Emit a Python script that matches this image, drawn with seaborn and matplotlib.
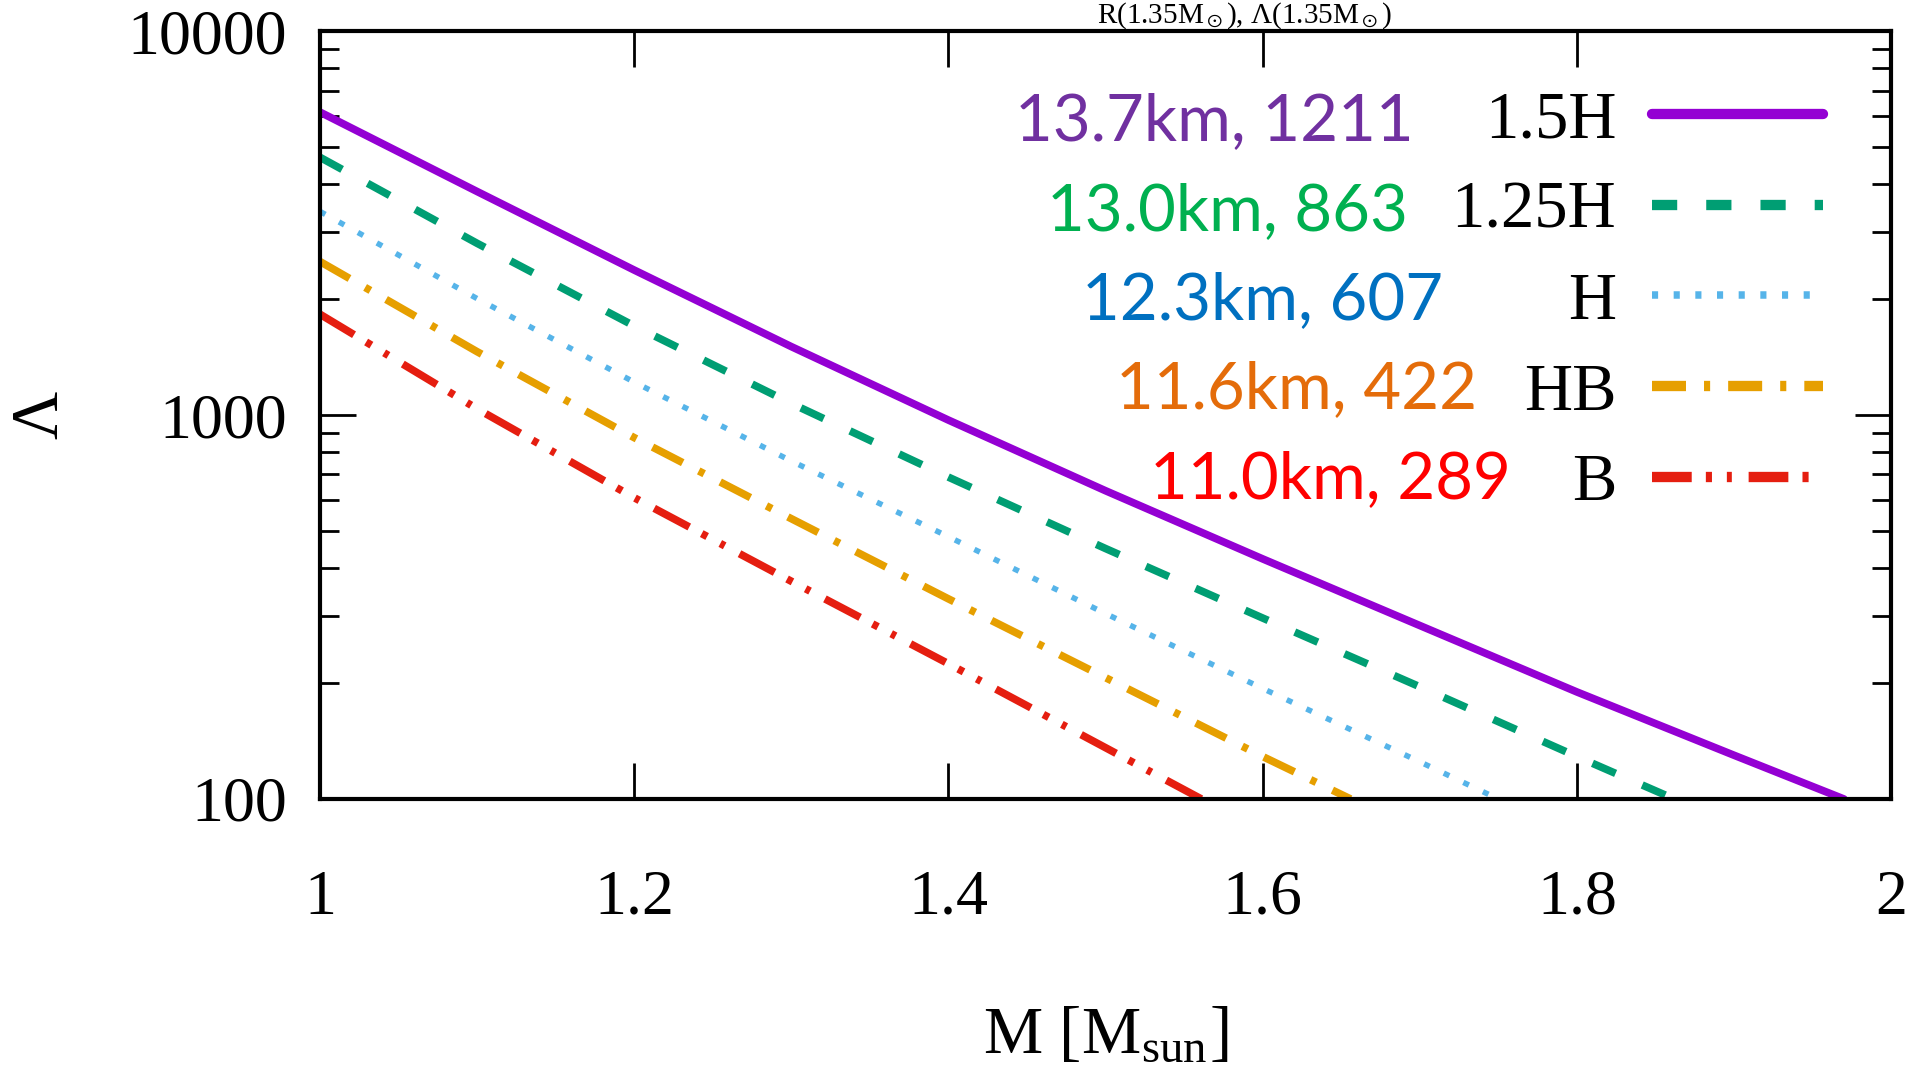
import numpy as np
import pandas as pd
import matplotlib
matplotlib.use("Agg")
import matplotlib.pyplot as plt
import seaborn as sns
from matplotlib.ticker import FixedLocator, FixedFormatter, LogLocator, NullFormatter, NullLocator
from matplotlib.font_manager import FontProperties

# ---------------- data ----------------
eos_names = ["1.5H", "1.25H", "H", "HB", "B"]
eos_notes = ["13.7km, 1211", "13.0km, 863", "12.3km, 607", "11.6km, 422", "11.0km, 289"]

mass_15H = [1.0, 1.1, 1.2, 1.3, 1.4, 1.5, 1.6, 1.7, 1.8, 1.9, 1.97]
lam_15H = [6150, 3820, 2385, 1507, 970, 635, 422, 283, 190, 130, 100]

mass_125H = [1.0, 1.1, 1.2, 1.3, 1.4, 1.5, 1.6, 1.7, 1.8, 1.862]
lam_125H = [4690, 2800, 1706, 1072, 689, 449, 296, 196, 129, 100]

mass_H = [1.0, 1.1, 1.2, 1.3, 1.4, 1.5, 1.6, 1.7, 1.75]
lam_H = [3390, 2010, 1218, 759, 482, 304, 194, 125, 100]

mass_HB = [1.0, 1.1, 1.2, 1.3, 1.4, 1.5, 1.6, 1.656]
lam_HB = [2510, 1462, 873, 537, 332, 207, 129, 100]

mass_B = [1.0, 1.1, 1.2, 1.3, 1.4, 1.5, 1.561]
lam_B = [1830, 1038, 609, 369, 225, 136, 100]

x_ticks = [1.0, 1.2, 1.4, 1.6, 1.8, 2.0]
x_tick_labels = ["1", "1.2", "1.4", "1.6", "1.8", "2"]
y_ticks = [100, 1000, 10000]
y_tick_labels = ["100", "1000", "10000"]

line_colors = ["#9400d3", "#009e73", "#56b4e9", "#e69f00", "#e51e10"]
note_colors = ["#7030a0", "#00b050", "#0070c0", "#e46c0a", "#ff0000"]

masses = [mass_15H, mass_125H, mass_H, mass_HB, mass_B]
lambdas = [lam_15H, lam_125H, lam_H, lam_HB, lam_B]

df = pd.concat(
    [pd.DataFrame({"M": m, "Lambda": l, "eos": n}) for m, l, n in zip(masses, lambdas, eos_names)],
    ignore_index=True,
)

# ---------------- styling ----------------
sns.set_theme(style="ticks")
plt.rcParams["font.family"] = ["Liberation Serif", "DejaVu Serif"]
plt.rcParams["mathtext.fontset"] = "stix"
plt.rcParams["axes.linewidth"] = 3
for key in ["text.color", "axes.labelcolor", "xtick.color", "ytick.color",
            "xtick.labelcolor", "ytick.labelcolor", "axes.edgecolor"]:
    plt.rcParams[key] = "black"

line_widths = [5.5, 5.5, 4.0, 5.5, 5.5]
dash_patterns = [
    None,
    (3.3, 3.8),
    (1.1, 2.8),
    (4.45, 2.36, 0.8, 2.36),
    (5.2, 1.85, 0.8, 1.95, 0.65, 2.2),
]
line_styles = ["-" if d is None else (0, d) for d in dash_patterns]

fig = plt.figure(figsize=(19.15, 10.67), dpi=100)
ax = fig.add_axes([0.1671, 0.2512, 0.8204, 0.7197])

for i, name in enumerate(eos_names):
    sub = df[df["eos"] == name]
    sns.lineplot(
        data=sub, x="M", y="Lambda", ax=ax, color=line_colors[i],
        linewidth=line_widths[i], linestyle=line_styles[i],
        estimator=None, errorbar=None, sort=True, label=name, legend=False,
    )

ax.set_yscale("log")
ax.set_xlim(1, 2)
ax.set_ylim(100, 10000)

ax.xaxis.set_major_locator(FixedLocator(x_ticks))
ax.xaxis.set_major_formatter(FixedFormatter(x_tick_labels))
ax.xaxis.set_minor_locator(NullLocator())
ax.yaxis.set_major_locator(FixedLocator(y_ticks))
ax.yaxis.set_major_formatter(FixedFormatter(y_tick_labels))
ax.yaxis.set_minor_locator(LogLocator(base=10, subs=list(range(2, 10))))
ax.yaxis.set_minor_formatter(NullFormatter())

ax.tick_params(which="both", direction="in", top=True, right=True, colors="black",
               labelcolor="black")
ax.tick_params(which="major", length=26, width=2, labelsize=46)
ax.tick_params(which="minor", length=14, width=2)
ax.tick_params(axis="x", which="major", pad=51)
ax.tick_params(axis="y", which="major", pad=24)
for s in ax.spines.values():
    s.set_color("black")
    s.set_linewidth(3)

ax.set_xlabel("M [M$_\\mathregular{sun}$]", fontsize=48, labelpad=56, color="black")
ax.set_ylabel("Λ", fontsize=48, labelpad=40, color="black")

# legend: black EOS names (right-aligned automatically with markerfirst=False)
handles = ax.get_lines()[: len(eos_names)]
leg = ax.legend(
    handles, eos_names, loc="upper right", bbox_to_anchor=(0.9567, 0.923),
    frameon=False, markerfirst=False, handlelength=2.56, handletextpad=0.54,
    labelspacing=0.447, borderaxespad=0, borderpad=0,
    prop=FontProperties(family="Liberation Serif", size=48),
)
for t in leg.get_texts():
    t.set_color("black")
# legend samples drawn a little bolder, keeping the same dash lengths in pixels
scale = 1.35
for j, ln in enumerate(leg.get_lines()):
    ln.set_linewidth(line_widths[j] * scale)
    if dash_patterns[j] is not None:
        ln.set_linestyle((0, tuple(v / scale for v in dash_patterns[j])))

# coloured radius / tidal-deformability notes
note_x = [0.4424, 0.4628, 0.4850, 0.5067, 0.5283]
note_y = [0.858, 0.741, 0.625, 0.509, 0.392]
for i, note in enumerate(eos_notes):
    ax.text(note_x[i], note_y[i], note, transform=ax.transAxes, color=note_colors[i],
            fontfamily="Lato", fontsize=47, ha="left", va="baseline")

# title (sits in the thin band above the frame)
fig.text(0.650, 0.979, "R(1.35M$_\\odot$), Λ(1.35M$_\\odot$)", ha="center", va="baseline",
         fontsize=21, color="black")

fig.savefig("out.png", dpi=100)
